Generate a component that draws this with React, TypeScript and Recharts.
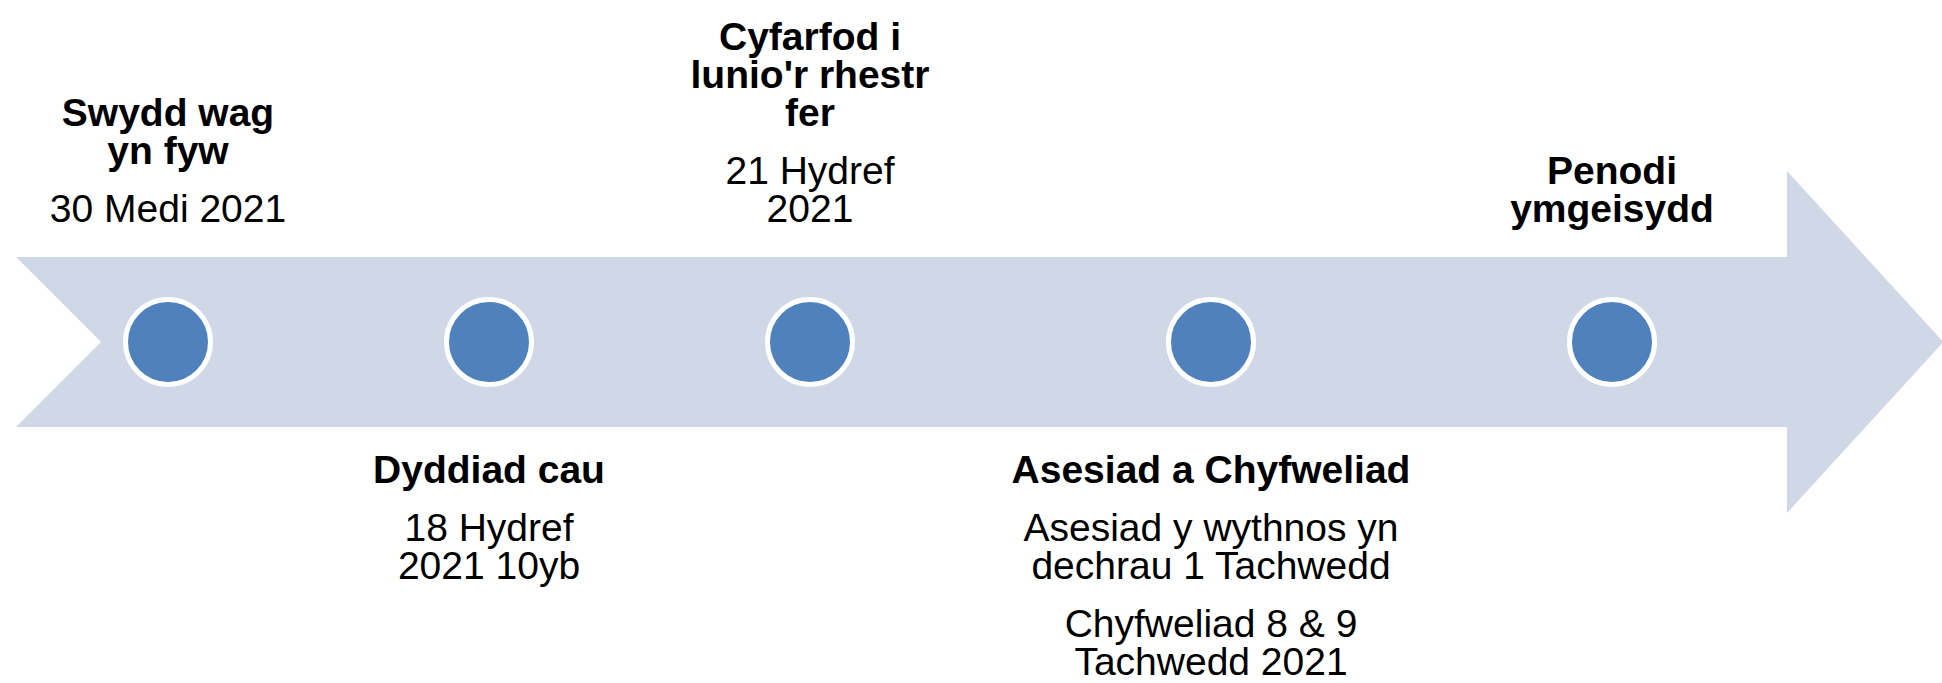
import React from 'react';
import { ScatterChart, Scatter, XAxis, YAxis, ReferenceArea } from 'recharts';

// ---- data ----
const stepPositions: number[] = [168, 489, 810, 1211, 1612];
const stepTitles: string[][] = [
  ['Swydd wag', 'yn fyw'],
  ['Dyddiad cau'],
  ['Cyfarfod i', "lunio'r rhestr", 'fer'],
  ['Asesiad a Chyfweliad'],
  ['Penodi', 'ymgeisydd'],
];
const stepDetails: string[][][] = [
  [['30 Medi 2021']],
  [['18 Hydref', '2021 10yb']],
  [['21 Hydref', '2021']],
  [['Asesiad y wythnos yn', 'dechrau 1 Tachwedd'], ['Chyfweliad 8 & 9', 'Tachwedd 2021']],
  [],
];
const labelSides: string[] = ['top', 'bottom', 'top', 'bottom', 'top'];
const timelineRow = 342;
const bandStart = 16;
const bandEnd = 1787;
const bandTop = 257;
const bandBottom = 427;

const chartData = stepPositions.map((x, i) => ({
  x,
  y: timelineRow,
  title: stepTitles[i],
  details: stepDetails[i],
  side: labelSides[i],
}));

const FONT = '"Liberation Sans", Arial, sans-serif';
const FS = 39;
const LH = 38;
const GAP = 20;

const ArrowShape = (props: any) => {
  const { x, y, width, height } = props;
  const mid = y + height / 2;
  const notch = height / 2;
  const head = height * 0.506;
  const tip = height * 0.92;
  const pts = [
    [x, y],
    [x + width, y],
    [x + width, y - head],
    [x + width + tip, mid],
    [x + width, y + height + head],
    [x + width, y + height],
    [x, y + height],
    [x + notch, mid],
  ]
    .map((p) => p.join(','))
    .join(' ');
  return <polygon points={pts} fill="#D0D8E8" stroke="none" />;
};

const StepShape = (props: any) => {
  const { cx, cy, payload } = props;
  if (cx == null || cy == null || !payload) return null;
  const paras: { lines: string[]; bold: boolean }[] = [
    { lines: payload.title, bold: true },
    ...payload.details.map((d: string[]) => ({ lines: d, bold: false })),
  ];
  const items: { text: string; bold: boolean; yy: number }[] = [];
  if (payload.side === 'top') {
    let yy = cy - 120;
    for (let p = paras.length - 1; p >= 0; p--) {
      const ls = paras[p].lines;
      for (let l = ls.length - 1; l >= 0; l--) {
        items.push({ text: ls[l], bold: paras[p].bold, yy });
        yy -= LH;
      }
      yy -= GAP;
    }
  } else {
    let yy = cy + 141;
    for (let p = 0; p < paras.length; p++) {
      const ls = paras[p].lines;
      for (let l = 0; l < ls.length; l++) {
        items.push({ text: ls[l], bold: paras[p].bold, yy });
        yy += LH;
      }
      yy += GAP;
    }
  }
  return (
    <g>
      <circle cx={cx} cy={cy} r={42.5} fill="#4F81BD" stroke="#FFFFFF" strokeWidth={5} />
      {items.map((it, k) => (
        <text
          key={k}
          x={cx}
          y={it.yy}
          textAnchor="middle"
          fontFamily={FONT}
          fontSize={FS}
          fontWeight={it.bold ? 'bold' : 'normal'}
          fill="#000000"
        >
          {it.text}
        </text>
      ))}
    </g>
  );
};

export default function App() {
  return (
    <div style={{ position: 'absolute', left: 0, top: 0, width: 1942, height: 683, background: '#FFFFFF' }}>
      <ScatterChart width={1942} height={683} margin={{ top: 0, right: 0, bottom: 0, left: 0 }}>
        <XAxis type="number" dataKey="x" domain={[0, 1942]} hide allowDataOverflow />
        <YAxis type="number" dataKey="y" domain={[0, 683]} reversed hide allowDataOverflow />
        <ReferenceArea
          x1={bandStart}
          x2={bandEnd}
          y1={bandTop}
          y2={bandBottom}
          ifOverflow="visible"
          shape={ArrowShape}
        />
        <Scatter data={chartData} shape={StepShape} isAnimationActive={false} />
      </ScatterChart>
    </div>
  );
}
